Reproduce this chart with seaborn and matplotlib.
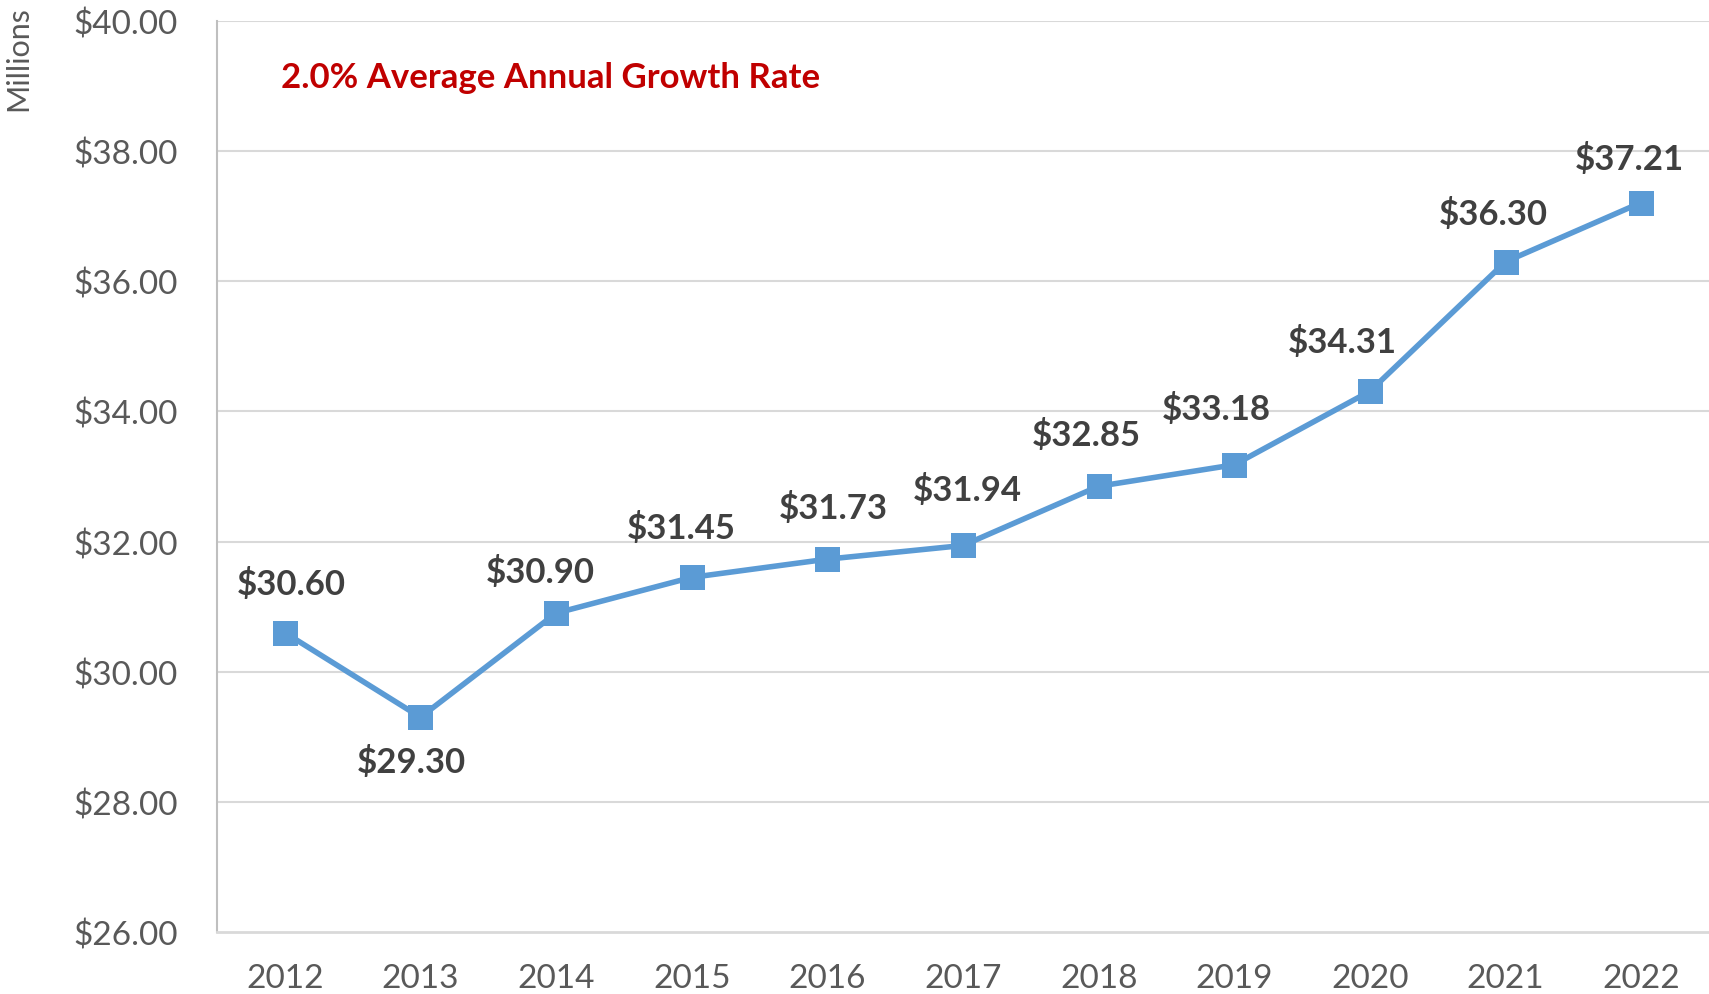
import matplotlib
matplotlib.use("Agg")
import matplotlib.pyplot as plt
import seaborn as sns
import pandas as pd

years = ["2012", "2013", "2014", "2015", "2016", "2017", "2018", "2019", "2020", "2021", "2022"]
values = [30.60, 29.30, 30.90, 31.45, 31.73, 31.94, 32.85, 33.18, 34.31, 36.30, 37.21]
y_ticks = [26, 28, 30, 32, 34, 36, 38, 40]
annotation = "2.0% Average Annual Growth Rate"
y_unit = "Millions"

# label layout (pixel offsets, not data)
label_dx = [6, -9, -16, -10, 6, 4, -12, -18, -28, -12, -12]
label_dy = [49, -44, 42, 50, 52, 56, 52, 56, 50, 48, 44]

sns.set_theme(style="white")
plt.rcParams["font.family"] = ["Lato", "DejaVu Sans"]

fig = plt.figure(figsize=(17.09, 9.95), dpi=100)
ax = fig.add_axes([217 / 1709, 1 - 933 / 995, 1 - 217 / 1709, (933 - 22) / 995])

df = pd.DataFrame({"idx": list(range(len(years))), "value": values})
sns.lineplot(data=df, x="idx", y="value", ax=ax, color="#5B9BD5", linewidth=4,
             marker="s", markersize=18, markeredgewidth=0, markerfacecolor="#5B9BD5")

ax.set_xlim(-0.5, len(years) - 0.5)
ax.set_ylim(y_ticks[0], y_ticks[-1])
ax.set_xticks(range(len(years)))
ax.set_xticklabels(years)
ax.set_yticks(y_ticks)
ax.set_yticklabels([f"${t:.2f}" for t in y_ticks])
ax.tick_params(axis="both", length=0, labelsize=24, labelcolor="#595959")
ax.tick_params(axis="x", pad=22)
ax.tick_params(axis="y", pad=28)
ax.set_xlabel("")
ax.set_ylabel("")

for t in y_ticks[1:]:
    ax.axhline(t, color="#D9D9D9", linewidth=1.5, zorder=0)

for s in ["top", "right"]:
    ax.spines[s].set_visible(False)
ax.spines["left"].set_color("#BFBFBF")
ax.spines["left"].set_linewidth(1.5)
ax.spines["bottom"].set_color("#D9D9D9")
ax.spines["bottom"].set_linewidth(2)

for i, v in enumerate(values):
    ax.annotate(f"${v:.2f}", (i, v), xytext=(label_dx[i] * 0.72, label_dy[i] * 0.72),
                textcoords="offset points", ha="center", va="center",
                fontsize=25, fontweight="bold", color="#404040")

fig.text(281 / 1709, 1 - 78 / 995, annotation, ha="left", va="center",
         fontsize=25, fontweight="bold", color="#C00000")
fig.text(18 / 1709, 1 - 59 / 995, y_unit, rotation=90, ha="center", va="center",
         fontsize=22, color="#595959")

fig.savefig("out.png", dpi=100)
